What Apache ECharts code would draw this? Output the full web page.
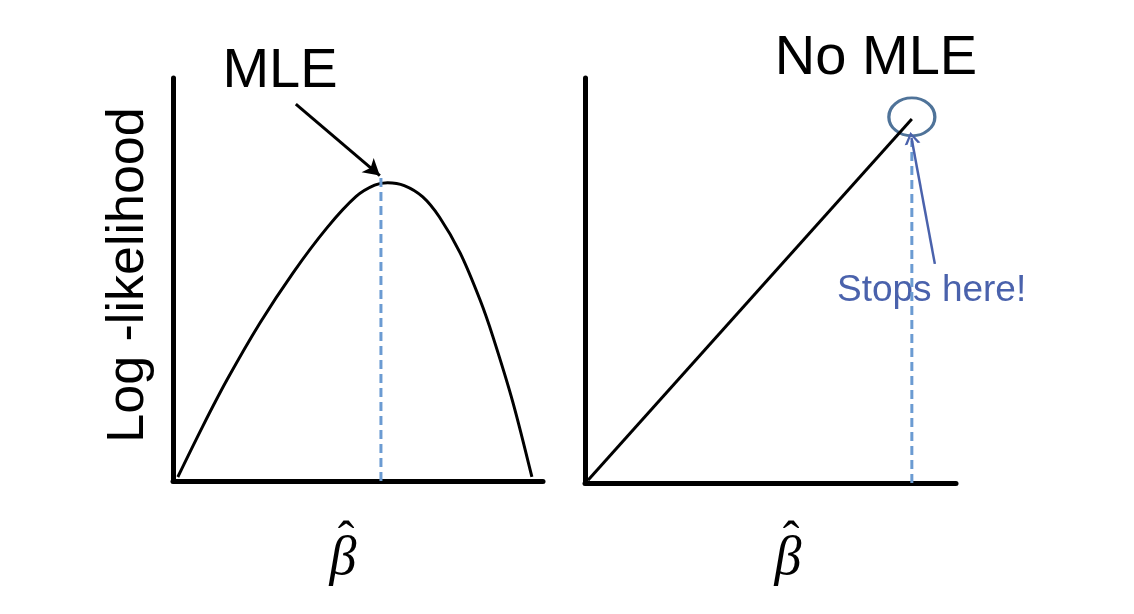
<!DOCTYPE html>
<html>
<head>
<meta charset="utf-8">
<script src="https://cdn.jsdelivr.net/npm/echarts@6/dist/echarts.min.js"></script>
<style>html,body{margin:0;padding:0;background:#fff;}#c{width:1134px;height:614px;}</style>
</head>
<body>
<div id="c"></div>
<script>
// Left panel: concave log-likelihood curve (x, y in 0-100 panel units)
const leftCurve = [
  [1.3, 1.0], [8, 13.5], [14.6, 25.1], [23.5, 39.2], [32.4, 51.6], [41.6, 62.8],
  [49.5, 70.6], [54.5, 73.4], [58.0, 74.0], [62.5, 73.3], [67.5, 70.5],
  [72.0, 65.5], [77.6, 56.6], [83.0, 44.9], [86.5, 35.7], [91.9, 19.4], [97.0, 1.0]
];
const leftMLE = [[56.2, 0], [56.2, 75.2]];
const leftArrow = [[33.2, 93.5], [55.9, 75.8]];

// Right panel: monotone increasing line, no maximum
const rightLine = [[0.8, 0.7], [88.1, 89.9]];
const rightStop = [[88.1, 0], [88.1, 84.5]];
const rightCircle = [[88.1, 90.4]];
const rightArrow = [[94.3, 54.1], [88.0, 85.2]];

const titles = { left: 'MLE', right: 'No MLE' };
const yLabel = 'Log -likelihood';
const xLabel = 'β';
const noteText = 'Stops here!';

const chart = echarts.init(document.getElementById('c'), null, { renderer: 'canvas' });
const axisLine = { show: true, lineStyle: { color: '#000', width: 5 } };
const baseAxis = (gi) => ({
  type: 'value', gridIndex: gi, min: 0, max: 100,
  axisLine: axisLine, axisTick: { show: false }, axisLabel: { show: false }, splitLine: { show: false }
});
const dashColor = '#6b9bd2';
chart.setOption({
  animation: false,
  grid: [
    { left: 173, top: 78, width: 370, height: 403 },
    { left: 585, top: 78, width: 371, height: 405 }
  ],
  xAxis: [baseAxis(0), baseAxis(1)],
  yAxis: [baseAxis(0), baseAxis(1)],
  series: [
    {
      type: 'line', xAxisIndex: 0, yAxisIndex: 0, data: leftCurve, smooth: 0.3,
      showSymbol: false, lineStyle: { color: '#000', width: 3 }, silent: true,
      markLine: {
        silent: true, animation: false, label: { show: false },
        lineStyle: { color: '#000', width: 3, type: 'solid' },
        symbolSize: [14, 16],
        data: [[{ coord: leftArrow[0], symbol: 'none' }, { coord: leftArrow[1], symbol: 'arrow' }]]
      }
    },
    {
      type: 'line', xAxisIndex: 0, yAxisIndex: 0, data: leftMLE, showSymbol: false,
      lineStyle: { color: dashColor, width: 3, type: [9, 5] }, silent: true
    },
    {
      type: 'line', xAxisIndex: 1, yAxisIndex: 1, data: rightLine, showSymbol: false,
      lineStyle: { color: '#000', width: 3 }, silent: true,
      markLine: {
        silent: true, animation: false, label: { show: false },
        lineStyle: { color: '#4a62ac', width: 2.5, type: 'solid' },
        symbolSize: [16, 12],
        data: [[{ coord: rightArrow[0], symbol: 'none' }, { coord: rightArrow[1], symbol: 'path://M0,10 L5,0 L10,10 L8.2,10 L5,3.2 L1.8,10 Z' }]]
      }
    },
    {
      type: 'line', xAxisIndex: 1, yAxisIndex: 1, data: rightStop, showSymbol: false,
      lineStyle: { color: dashColor, width: 3, type: [9, 5] }, silent: true
    },
    {
      type: 'scatter', xAxisIndex: 1, yAxisIndex: 1, data: rightCircle, symbol: 'circle',
      symbolSize: [46, 38], silent: true,
      itemStyle: { color: 'rgba(0,0,0,0)', borderColor: '#4f7399', borderWidth: 3, opacity: 1 }
    }
  ],
  graphic: [
    { type: 'text', x: 280, y: 72, style: { text: titles.left, font: '56px "Liberation Sans", Arial, sans-serif', fill: '#000', align: 'center', verticalAlign: 'middle' } },
    { type: 'text', x: 876, y: 59, style: { text: titles.right, font: '56px "Liberation Sans", Arial, sans-serif', fill: '#000', align: 'center', verticalAlign: 'middle' } },
    { type: 'text', x: 129, y: 275, rotation: Math.PI / 2, style: { text: yLabel, font: '52px "Liberation Sans", Arial, sans-serif', fill: '#000', align: 'center', verticalAlign: 'middle' } },
    { type: 'text', x: 837, y: 291, style: { text: noteText, font: '37px "Liberation Sans", Arial, sans-serif', fill: '#4a62ac', align: 'left', verticalAlign: 'middle' } },
    { type: 'text', x: 343, y: 560, style: { text: xLabel, font: 'italic 54px "Liberation Serif", "Times New Roman", serif', fill: '#000', align: 'center', verticalAlign: 'middle' } },
    { type: 'text', x: 346, y: 543, style: { text: 'ˆ', font: '50px "Liberation Serif", "Times New Roman", serif', fill: '#000', align: 'center', verticalAlign: 'middle' } },
    { type: 'text', x: 788, y: 560, style: { text: xLabel, font: 'italic 54px "Liberation Serif", "Times New Roman", serif', fill: '#000', align: 'center', verticalAlign: 'middle' } },
    { type: 'text', x: 791, y: 543, style: { text: 'ˆ', font: '50px "Liberation Serif", "Times New Roman", serif', fill: '#000', align: 'center', verticalAlign: 'middle' } }
  ]
});
</script>
</body>
</html>
